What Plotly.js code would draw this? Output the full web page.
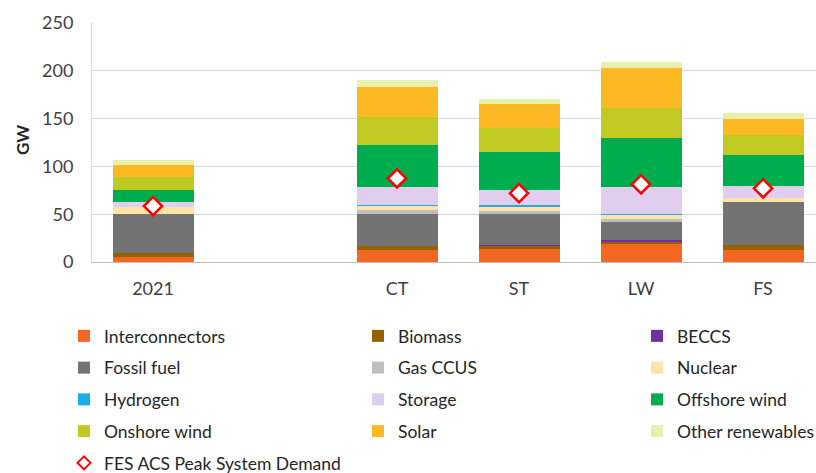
<!DOCTYPE html>
<html>
<head>
<meta charset="utf-8">
<script src="https://cdn.plot.ly/plotly-3.0.1.min.js"></script>
<style>html,body{margin:0;padding:0;background:#fff;}#chart{width:816px;height:473px;}</style>
</head>
<body>
<div id="chart"></div>
<script>
const categories = ["2021", " ", "CT", "ST", "LW", "FS"];
const interconnectors = [5.5, null, 12.5, 13.3, 18.8, 12.5];
const biomass = [4.2, null, 4.5, 3.8, 2.1, 5.2];
const beccs = [0, null, 0, 0.3, 2.1, 0];
const fossilFuel = [40.5, null, 33.2, 32.8, 18.8, 45.0];
const gasCCUS = [0, null, 3.9, 3.4, 3.5, 0.5];
const nuclear = [7.6, null, 4.2, 4.2, 3.5, 4.2];
const hydrogen = [0, null, 1.7, 2.1, 1.4, 0];
const storage = [4.6, null, 18.1, 15.0, 28.6, 12.6];
const offshoreWind = [12.9, null, 44.6, 40.5, 51.2, 31.7];
const onshoreWind = [13.3, null, 29.3, 24.3, 30.8, 20.9];
const solar = [12.9, null, 31.4, 25.1, 41.8, 17.5];
const otherRenewables = [5.2, null, 7.0, 5.7, 6.9, 5.9];
const peakDemand = [58.5, null, 87.5, 72.0, 81.3, 77.1];
const yTicks = [0, 50, 100, 150, 200, 250];
const yTitle = "GW";

const series = [
  ["Interconnectors", interconnectors, "#F26722", "legend"],
  ["Biomass", biomass, "#946200", "legend2"],
  ["BECCS", beccs, "#7030A0", "legend3"],
  ["Fossil fuel", fossilFuel, "#737373", "legend"],
  ["Gas CCUS", gasCCUS, "#BFBFBF", "legend2"],
  ["Nuclear", nuclear, "#FFE3A8", "legend3"],
  ["Hydrogen", hydrogen, "#1AAFE6", "legend"],
  ["Storage", storage, "#E1CDEE", "legend2"],
  ["Offshore wind", offshoreWind, "#00AD4E", "legend3"],
  ["Onshore wind", onshoreWind, "#C1CA22", "legend"],
  ["Solar", solar, "#FDB924", "legend2"],
  ["Other renewables", otherRenewables, "#E8F0AD", "legend3"]
];

const traces = series.map(function (s, i) {
  return {
    type: "bar", name: s[0], x: categories, y: s[1],
    marker: {color: s[2], line: {width: 0}},
    legend: s[3], legendgroup: "g" + i, hoverinfo: "name+y"
  };
});
traces.push({
  type: "scatter", mode: "markers", name: "FES ACS Peak System Demand",
  x: categories, y: peakDemand, showlegend: false, legendgroup: "gd",
  marker: {symbol: "diamond", size: 14, color: "#FFFFFF", line: {color: "#FF0000", width: 2.5}}
});
// legend entry only (no data points), smaller symbol as in the reference legend
traces.push({
  type: "scatter", mode: "markers", name: "FES ACS Peak System Demand",
  x: categories, y: categories.map(function () { return null; }),
  legend: "legend", legendgroup: "gd2", hoverinfo: "skip",
  marker: {symbol: "diamond", size: 10, color: "#FFFFFF", line: {color: "#FF0000", width: 2}}
});

const font = {family: "Lato, 'Open Sans', sans-serif", size: 18, color: "#404040"};
function leg(xpx) {
  return {
    xref: "container", yref: "container", x: xpx / 816, y: 1 - 318 / 473,
    xanchor: "left", yanchor: "top", orientation: "v", traceorder: "grouped",
    tracegroupgap: 6, font: {family: font.family, size: 17.5, color: "#262626"},
    bgcolor: "rgba(0,0,0,0)", borderwidth: 0
  };
}

const layout = {
  width: 816, height: 473,
  margin: {l: 92, r: 0, t: 23, b: 211, autoexpand: false},
  paper_bgcolor: "#FFFFFF", plot_bgcolor: "#FFFFFF",
  font: font,
  barmode: "stack", bargap: 0.336,
  showlegend: true,
  legend: leg(64), legend2: leg(358), legend3: leg(637),
  xaxis: {
    type: "category", categoryorder: "array", categoryarray: categories,
    range: [-0.5, 5.434], fixedrange: true, automargin: false,
    showline: true, linecolor: "#BFBFBF", linewidth: 1,
    ticks: "", showgrid: false, zeroline: false,
    tickfont: font, ticklabelstandoff: 10
  },
  yaxis: {
    range: [0, 250], tickvals: yTicks, fixedrange: true, automargin: false,
    showline: true, linecolor: "#D9D9D9", linewidth: 1,
    gridcolor: "#D9D9D9", gridwidth: 1, zeroline: false,
    ticks: "", tickfont: font, ticklabelstandoff: 14
  },
  annotations: [{
    text: "<b>" + yTitle + "</b>", xref: "paper", yref: "paper",
    x: (22 - 92) / 724, y: (262 - 140) / 239, xanchor: "center", yanchor: "middle",
    textangle: -90, showarrow: false,
    font: {family: font.family, size: 17, color: "#262626"}
  }]
};

Plotly.newPlot("chart", traces, layout, {displayModeBar: false, staticPlot: true});
</script>
</body>
</html>
